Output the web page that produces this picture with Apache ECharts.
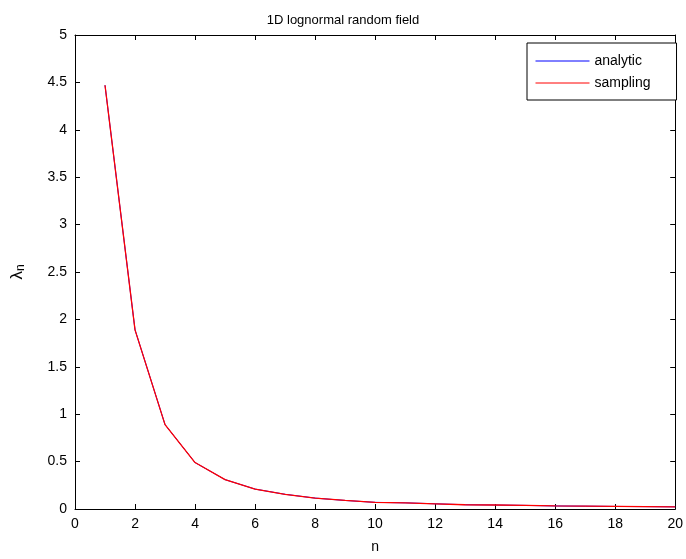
<!DOCTYPE html>
<html>
<head>
<meta charset="utf-8">
<script src="https://cdn.jsdelivr.net/npm/echarts@6/dist/echarts.min.js"></script>
<style>
  html, body { margin: 0; padding: 0; background: #fff; }
  #chart { width: 686px; height: 559px; }
</style>
</head>
<body>
<div id="chart"></div>
<script>
// eigenvalues, n = 1..20
const nValues = [1, 2, 3, 4, 5, 6, 7, 8, 9, 10, 11, 12, 13, 14, 15, 16, 17, 18, 19, 20]
const analytic = [4.47, 1.89, 0.89, 0.49, 0.31, 0.21, 0.155, 0.115, 0.09, 0.07, 0.065, 0.055, 0.045, 0.042, 0.038, 0.032, 0.03, 0.027, 0.025, 0.023]
const sampling = [4.47, 1.89, 0.89, 0.49, 0.31, 0.21, 0.155, 0.115, 0.09, 0.07, 0.065, 0.055, 0.045, 0.042, 0.038, 0.032, 0.03, 0.027, 0.025, 0.023]

const font = 'Liberation Sans, Arial, Helvetica, sans-serif'
const axisCommon = {
  axisLine: { show: true, onZero: false, lineStyle: { color: '#000', width: 1 } },
  axisTick: { show: true, inside: true, length: 5, lineStyle: { color: '#000' } },
  splitLine: { show: false }
}

const chart = echarts.init(document.getElementById('chart'))
chart.setOption({
  animation: false,
  backgroundColor: '#fff',
  textStyle: { fontFamily: font },
  title: {
    text: '1D lognormal random field',
    left: 'center',
    top: 9,
    textStyle: { fontSize: 13, fontWeight: 'normal', color: '#000', fontFamily: font }
  },
  legend: {
    orient: 'vertical',
    left: 527,
    top: 43,
    padding: [11, 26, 10, 8],
    itemWidth: 54,
    itemHeight: 14,
    itemGap: 8,
    borderColor: '#000',
    borderWidth: 1,
    backgroundColor: '#fff',
    itemStyle: { opacity: 0, borderWidth: 0 },
    lineStyle: { width: 1 },
    textStyle: { fontSize: 14, color: '#000', fontFamily: font },
    data: ['analytic', 'sampling']
  },
  grid: { left: 75, right: 10, top: 35, bottom: 48 },
  xAxis: [
    {
      type: 'value', min: 0, max: 20, interval: 2,
      name: 'n', nameLocation: 'middle', nameGap: 31,
      nameTextStyle: { fontSize: 14, color: '#000' },
      axisLabel: { fontSize: 14, color: '#000', margin: 8 },
      ...axisCommon
    },
    {
      type: 'value', min: 0, max: 20, interval: 2, position: 'top',
      axisLabel: { show: false },
      ...axisCommon
    }
  ],
  yAxis: [
    {
      type: 'value', min: 0, max: 5, interval: 0.5,
      name: '{a|λ}{b|n}', nameLocation: 'middle', nameGap: 48, nameRotate: 90,
      nameTextStyle: {
        color: '#000',
        rich: {
          a: { fontSize: 17, color: '#000', fontFamily: font },
          b: { fontSize: 12, color: '#000', fontFamily: font, verticalAlign: 'bottom', padding: [7, 0, 0, 0] }
        }
      },
      axisLabel: { fontSize: 14, color: '#000', margin: 8 },
      ...axisCommon
    },
    {
      type: 'value', min: 0, max: 5, interval: 0.5, position: 'right',
      axisLabel: { show: false },
      ...axisCommon
    }
  ],
  series: [
    {
      name: 'analytic',
      type: 'line',
      symbol: 'none',
      color: '#0000ff',
      lineStyle: { width: 1, color: '#0000ff' },
      data: nValues.map((n, i) => [n, analytic[i]])
    },
    {
      name: 'sampling',
      type: 'line',
      symbol: 'none',
      color: '#ff0000',
      lineStyle: { width: 1.3, color: '#ff0000' },
      data: nValues.map((n, i) => [n, sampling[i]])
    }
  ]
})
</script>
</body>
</html>
